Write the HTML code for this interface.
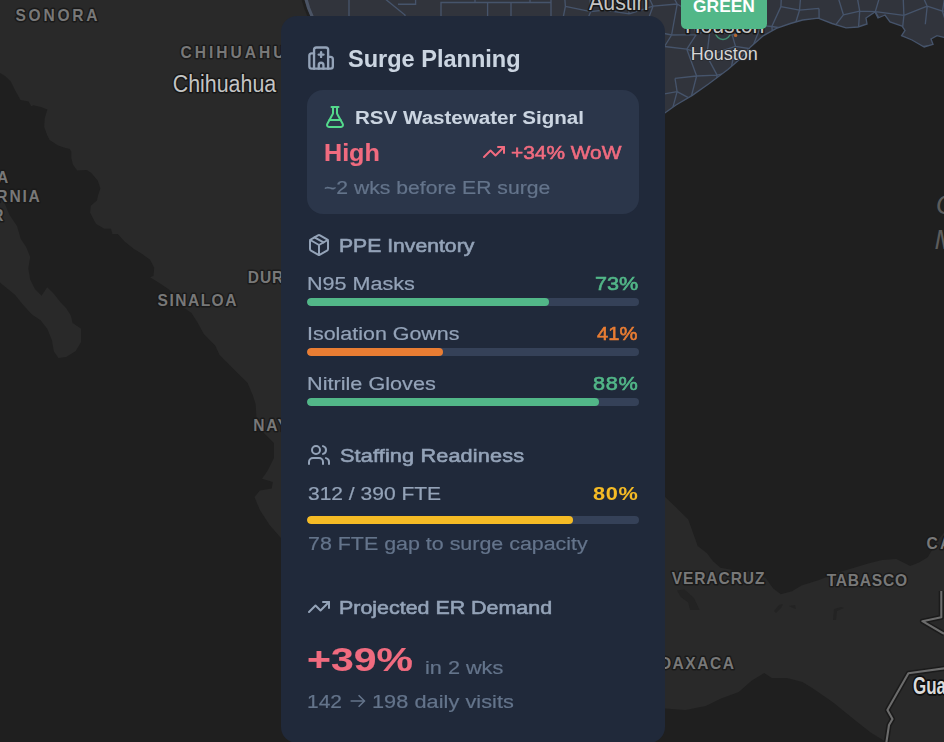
<!DOCTYPE html>
<html lang="en"><head><meta charset="utf-8"><title>Surge Planning</title>
<style>
html,body{margin:0;padding:0;}
body{width:944px;height:742px;overflow:hidden;background:#1f1f1f;font-family:"Liberation Sans",sans-serif;position:relative;}
.map{position:absolute;left:0;top:0;display:block;}
.badge{position:absolute;left:680.7px;top:-12px;width:86.5px;height:41.2px;border-radius:5.3px;background:#52b788;}
.badge b{position:absolute;left:12.4px;top:10.2px;font-size:17.4px;line-height:1;color:#fff;font-weight:700;white-space:pre;}
.panel{position:absolute;left:281px;top:16px;width:384px;height:727px;border-radius:16px;background:#20293a;overflow:hidden;}
.card{position:absolute;left:26.2px;top:74.2px;width:331.8px;height:123.8px;border-radius:16px;background:#2b364a;}
.tx{position:absolute;white-space:pre;line-height:1;transform-origin:0 0;}
.ic{position:absolute;display:block;overflow:visible;}
.bar{position:absolute;left:26.2px;width:331.8px;height:8px;border-radius:4px;background:#354158;overflow:hidden;}
.bar i{display:block;height:100%;border-radius:4px;}
</style></head><body>
<svg class="map" width="944" height="742" viewBox="0 0 944 742" font-family="Liberation Sans, sans-serif">
<defs><clipPath id="txc"><polygon points="303.0,0.0 311.0,20.0 640.0,20.0 640.0,140.0 664.8,113.0 676.0,105.0 692.3,95.4 708.5,84.0 727.9,69.5 740.8,58.2 750.5,46.9 763.5,35.6 776.4,28.3 790.4,23.5 802.6,20.0 818.2,18.2 832.0,23.5 846.0,27.8 858.0,27.0 867.0,24.0 866.0,18.0 875.0,12.0 878.0,18.0 885.0,15.0 890.0,22.0 902.0,26.0 905.0,30.4 901.6,35.6 912.0,40.0 924.2,47.0 933.0,44.3 931.0,39.0 937.0,35.6 944.0,37.4 944.0,0.0"/></clipPath><filter id="soft" color-interpolation-filters="sRGB"><feGaussianBlur stdDeviation="0.5"/></filter></defs>
<rect width="944" height="742" fill="#292929"/>
<g filter="url(#soft)">
<polygon points="0.0,72.9 5.4,76.2 10.8,81.6 15.1,90.2 20.5,99.9 28.6,101.5 31.3,106.3 33.4,105.3 40.9,106.9 47.4,109.6 44.7,118.2 44.2,126.8 46.9,134.4 49.6,140.0 58.0,145.5 64.0,147.5 69.7,148.9 71.3,151.6 71.3,158.0 72.9,164.5 77.2,170.4 86.9,169.9 91.3,173.1 97.7,180.6 100.4,188.2 98.2,195.0 96.9,200.4 90.8,205.8 90.1,212.5 93.5,219.3 96.2,224.0 104.3,228.7 111.0,228.7 112.4,234.1 117.8,234.1 124.5,241.5 133.9,248.9 140.7,253.0 150.1,259.7 154.2,267.8 153.5,275.9 150.1,277.2 160.9,284.0 169.0,289.4 174.4,295.0 182.8,306.9 191.5,313.0 197.7,322.7 203.8,334.0 215.2,345.4 219.6,355.0 230.0,365.6 238.8,374.3 247.6,383.0 252.9,395.4 255.6,404.0 256.6,419.4 263.1,432.3 273.9,443.1 273.9,458.2 267.4,471.1 262.0,478.7 272.8,481.9 271.7,488.4 259.9,490.5 254.5,497.0 259.9,509.9 269.6,525.0 281.0,538.0 300.0,560.0 300.0,742.0 0.0,742.0" fill="#1f1f1f"/>
<polygon points="0.0,188.0 4.7,203.4 9.4,214.7 17.0,226.0 20.8,239.0 26.4,247.5 30.2,257.0 28.3,268.3 30.2,279.6 34.9,289.0 41.5,295.7 47.2,287.2 53.8,293.8 60.4,302.3 66.0,308.0 70.8,315.5 72.6,323.0 81.1,328.7 81.1,341.9 75.5,351.3 66.0,357.0 58.5,358.0 53.8,351.3 51.9,340.0 47.2,328.7 40.6,320.2 32.0,314.5 22.6,304.2 15.0,294.7 5.7,287.2 0.0,282.5" fill="#292929"/>
<polygon points="640.0,140.0 664.8,113.0 676.0,105.0 692.3,95.4 708.5,84.0 727.9,69.5 740.8,58.2 750.5,46.9 763.5,35.6 776.4,28.3 790.4,23.5 802.6,20.0 818.2,18.2 832.0,23.5 846.0,27.8 858.0,27.0 867.0,24.0 866.0,18.0 875.0,12.0 878.0,18.0 885.0,15.0 890.0,22.0 902.0,26.0 905.0,30.4 901.6,35.6 912.0,40.0 924.2,47.0 933.0,44.3 931.0,39.0 937.0,35.6 944.0,37.4 944.0,532.8 938.2,539.8 933.0,548.6 927.7,557.3 919.0,562.6 910.2,566.1 903.2,562.6 896.2,559.0 882.1,560.0 868.1,563.5 854.1,567.8 836.6,573.1 819.0,580.1 801.5,585.4 792.0,591.3 780.8,594.2 773.2,588.5 765.7,578.1 750.6,571.5 735.5,570.6 720.4,567.7 712.8,561.1 707.2,553.6 697.7,546.0 693.0,532.8 688.3,519.6 675.1,506.4 665.1,497.0 640.0,475.0" fill="#1f1f1f"/>
<polygon points="640.0,706.0 665.0,708.6 685.4,710.0 705.8,706.0 721.0,698.5 738.8,692.0 751.5,680.7 764.2,673.0 771.9,678.0 787.0,678.0 802.4,682.0 812.6,688.3 832.9,702.3 853.2,718.8 871.0,732.8 883.7,740.4 886.0,742.0 640.0,742.0" fill="#1f1f1f"/>
<polygon points="677,590.4 684.5,589.4 694,598 699.6,610 690,610 688.3,602.6 680.8,597" fill="#232323"/><path d="M774 611l5-6 4-1-2 4-5 5zM789 606l6-1 1 4-3-1zM833 620l1-11 7-2 3 1-7 3-1 9zM790 604" fill="#232323"/>
</g>
<polygon points="303.0,0.0 311.0,20.0 640.0,20.0 640.0,140.0 664.8,113.0 676.0,105.0 692.3,95.4 708.5,84.0 727.9,69.5 740.8,58.2 750.5,46.9 763.5,35.6 776.4,28.3 790.4,23.5 802.6,20.0 818.2,18.2 832.0,23.5 846.0,27.8 858.0,27.0 867.0,24.0 866.0,18.0 875.0,12.0 878.0,18.0 885.0,15.0 890.0,22.0 902.0,26.0 905.0,30.4 901.6,35.6 912.0,40.0 924.2,47.0 933.0,44.3 931.0,39.0 937.0,35.6 944.0,37.4 944.0,0.0" fill="#31343c"/>
<g clip-path="url(#txc)"><path d="M349 -2V18M384 -2L405 15V18M398 4.2H415.6V-2M441 18V2.5H551M475 2.5V-2M487.6 2.5V18M511 2.5V18M551 -2V18M530 2.5V-2M563.7 -16.5L589.0 -17.6M563.7 -16.5L565.4 6.4M589.0 -17.6L590.8 11.6M608.5 -13.7L623.3 -11.9M608.5 -13.7L604.7 10.0M623.3 -11.9L629.3 13.9M644.0 -12.9L665.4 -17.3M644.0 -12.9L653.0 6.2M665.4 -17.3L677.2 4.0M691.0 -7.8L690.9 12.3M708.1 -15.6L735.7 -6.2M708.1 -15.6L708.5 8.9M735.7 -6.2L756.0 -13.3M735.7 -6.2L728.0 11.2M756.0 -13.3L782.2 -17.9M756.0 -13.3L758.4 9.9M782.2 -17.9L801.7 -14.7M782.2 -17.9L780.9 6.6M801.7 -14.7L813.4 -17.0M801.7 -14.7L799.5 10.2M836.5 -7.9L855.8 -10.9M836.5 -7.9L843.4 14.8M855.8 -10.9L859.7 11.1M882.8 -13.7L902.6 -17.7M882.8 -13.7L875.3 11.6M902.6 -17.7L903.9 15.4M917.3 -15.8L927.2 6.2M946.3 -12.9L962.6 -10.9M946.3 -12.9L942.5 11.2M962.6 -10.9L958.8 8.5M565.4 6.4L590.8 11.6M565.4 6.4L561.7 25.0M590.8 11.6L604.7 10.0M590.8 11.6L581.3 33.5M604.7 10.0L629.3 13.9M629.3 13.9L653.0 6.2M653.0 6.2L677.2 4.0M653.0 6.2L644.5 29.3M677.2 4.0L690.9 12.3M677.2 4.0L671.6 35.0M690.9 12.3L708.5 8.9M690.9 12.3L696.2 34.7M708.5 8.9L728.0 11.2M708.5 8.9L710.1 28.9M728.0 11.2L732.2 35.0M758.4 9.9L761.0 25.5M780.9 6.6L799.5 10.2M780.9 6.6L771.8 26.5M799.5 10.2L819.0 8.4M799.5 10.2L793.5 29.8M819.0 8.4L819.2 26.9M843.4 14.8L859.7 11.1M843.4 14.8L832.6 28.9M859.7 11.1L875.3 11.6M859.7 11.1L858.3 30.9M875.3 11.6L903.9 15.4M875.3 11.6L886.9 32.5M903.9 15.4L927.2 6.2M903.9 15.4L902.2 31.5M927.2 6.2L942.5 11.2M927.2 6.2L925.3 24.2M942.5 11.2L958.8 8.5M942.5 11.2L949.2 33.6M958.8 8.5L969.9 33.9M561.7 25.0L564.6 49.7M581.3 33.5L581.8 52.7M603.2 26.7L627.6 34.8M603.2 26.7L602.3 45.4M627.6 34.8L625.2 46.6M644.5 29.3L671.6 35.0M644.5 29.3L647.9 45.2M671.6 35.0L696.2 34.7M671.6 35.0L664.5 46.5M696.2 34.7L710.1 28.9M696.2 34.7L686.8 49.2M710.1 28.9L732.2 35.0M710.1 28.9L706.8 55.9M732.2 35.0L761.0 25.5M732.2 35.0L735.5 46.4M761.0 25.5L771.8 26.5M761.0 25.5L751.8 49.0M771.8 26.5L793.5 29.8M771.8 26.5L774.2 46.1M793.5 29.8L819.2 26.9M793.5 29.8L801.5 57.4M819.2 26.9L817.6 50.8M832.6 28.9L858.3 30.9M832.6 28.9L833.6 45.8M858.3 30.9L886.9 32.5M858.3 30.9L858.0 47.9M886.9 32.5L885.3 46.6M902.2 31.5L895.8 56.9M949.2 33.6L969.9 33.9M949.2 33.6L944.6 44.9M969.9 33.9L965.4 57.2M564.6 49.7L581.8 52.7M564.6 49.7L570.7 74.6M581.8 52.7L602.3 45.4M581.8 52.7L583.9 70.3M602.3 45.4L625.2 46.6M602.3 45.4L603.7 75.5M625.2 46.6L647.9 45.2M625.2 46.6L629.4 75.6M647.9 45.2L664.5 46.5M647.9 45.2L647.8 68.4M664.5 46.5L686.8 49.2M686.8 49.2L706.8 55.9M686.8 49.2L696.6 76.0M706.8 55.9L735.5 46.4M706.8 55.9L717.1 75.1M735.5 46.4L751.8 49.0M735.5 46.4L730.4 72.2M751.8 49.0L774.2 46.1M751.8 49.0L753.1 65.9M774.2 46.1L801.5 57.4M774.2 46.1L769.9 69.1M801.5 57.4L817.6 50.8M801.5 57.4L793.9 74.5M817.6 50.8L833.6 45.8M817.6 50.8L823.9 71.3M833.6 45.8L858.0 47.9M833.6 45.8L844.7 78.3M858.0 47.9L865.9 70.2M885.3 46.6L895.8 56.9M895.8 56.9L923.4 46.4M895.8 56.9L898.1 68.2M923.4 46.4L944.6 44.9M923.4 46.4L924.6 77.2M944.6 44.9L965.4 57.2M944.6 44.9L948.4 71.7M570.7 74.6L583.9 70.3M570.7 74.6L560.6 95.1M583.9 70.3L603.7 75.5M583.9 70.3L592.3 96.7M603.7 75.5L629.4 75.6M629.4 75.6L647.8 68.4M629.4 75.6L624.8 96.8M647.8 68.4L647.8 96.9M675.0 78.3L696.6 76.0M675.0 78.3L677.1 91.6M696.6 76.0L717.1 75.1M696.6 76.0L690.7 98.8M717.1 75.1L730.4 72.2M717.1 75.1L715.9 88.7M730.4 72.2L753.1 65.9M730.4 72.2L729.2 88.5M753.1 65.9L769.9 69.1M753.1 65.9L760.3 97.0M769.9 69.1L793.9 74.5M793.9 74.5L823.9 71.3M793.9 74.5L803.2 95.0M823.9 71.3L844.7 78.3M823.9 71.3L816.1 93.6M844.7 78.3L865.9 70.2M865.9 70.2L866.1 94.9M877.4 68.4L898.1 68.2M877.4 68.4L881.3 98.6M898.1 68.2L924.6 77.2M898.1 68.2L901.1 97.8M924.6 77.2L948.4 71.7M924.6 77.2L927.2 89.2M948.4 71.7L967.0 75.9M967.0 75.9L961.6 94.1M560.6 95.1L592.3 96.7M560.6 95.1L562.9 112.9M592.3 96.7L611.3 92.7M611.3 92.7L624.8 96.8M611.3 92.7L606.1 113.5M624.8 96.8L647.8 96.9M624.8 96.8L630.1 119.3M647.8 96.9L677.1 91.6M647.8 96.9L649.0 119.4M677.1 91.6L690.7 98.8M677.1 91.6L671.0 114.4M690.7 98.8L715.9 88.7M690.7 98.8L692.3 107.7M715.9 88.7L729.2 88.5M715.9 88.7L712.2 109.9M729.2 88.5L760.3 97.0M729.2 88.5L727.6 117.9M760.3 97.0L771.4 97.2M760.3 97.0L750.7 113.7M771.4 97.2L803.2 95.0M771.4 97.2L778.9 114.7M803.2 95.0L816.1 93.6M803.2 95.0L794.7 114.2M834.2 86.7L866.1 94.9M834.2 86.7L833.9 114.8M866.1 94.9L881.3 98.6M866.1 94.9L856.7 111.1M881.3 98.6L901.1 97.8M881.3 98.6L884.5 114.1M901.1 97.8L927.2 89.2M927.2 89.2L940.8 90.3M927.2 89.2L928.4 113.3M940.8 90.3L961.6 94.1M940.8 90.3L945.5 114.1M961.6 94.1L965.2 116.5M562.9 112.9L582.2 119.3M562.9 112.9L565.4 135.4M582.2 119.3L606.1 113.5M582.2 119.3L586.7 140.7M606.1 113.5L630.1 119.3M606.1 113.5L610.6 139.9M630.1 119.3L649.0 119.4M630.1 119.3L634.7 131.9M649.0 119.4L671.0 114.4M671.0 114.4L675.4 130.3M692.3 107.7L712.2 109.9M692.3 107.7L687.1 134.2M712.2 109.9L727.6 117.9M712.2 109.9L707.4 131.6M727.6 117.9L750.7 113.7M727.6 117.9L728.5 137.2M750.7 113.7L778.9 114.7M750.7 113.7L758.7 140.2M778.9 114.7L794.7 114.2M778.9 114.7L771.5 137.8M794.7 114.2L818.7 117.7M794.7 114.2L799.1 130.4M818.7 117.7L833.9 114.8M818.7 117.7L823.0 141.1M833.9 114.8L856.7 111.1M856.7 111.1L884.5 114.1M856.7 111.1L858.7 134.8M884.5 114.1L902.8 117.4M884.5 114.1L887.4 139.3M902.8 117.4L928.4 113.3M928.4 113.3L945.5 114.1M928.4 113.3L923.2 132.9M945.5 114.1L965.2 116.5M945.5 114.1L940.0 132.6M965.2 116.5L967.9 128.8M565.4 135.4L586.7 140.7M586.7 140.7L610.6 139.9M610.6 139.9L634.7 131.9M634.7 131.9L650.8 140.8M650.8 140.8L675.4 130.3M675.4 130.3L687.1 134.2M687.1 134.2L707.4 131.6M707.4 131.6L728.5 137.2M728.5 137.2L758.7 140.2M758.7 140.2L771.5 137.8M771.5 137.8L799.1 130.4M799.1 130.4L823.0 141.1M823.0 141.1L835.4 140.9M835.4 140.9L858.7 134.8M858.7 134.8L887.4 139.3M887.4 139.3L897.6 134.1M897.6 134.1L923.2 132.9M923.2 132.9L940.0 132.6" fill="none" stroke="#46546b" stroke-width="1.35"/></g>
<polyline points="302.6,-2 305.6,8 310.6,20" fill="none" stroke="#202020" stroke-width="3"/><polyline points="305.6,-2 308.6,8 313.6,20" fill="none" stroke="#4b5465" stroke-width="3.2"/>
<polyline points="664.8,113.0 676.0,105.0 692.3,95.4 708.5,84.0 727.9,69.5 740.8,58.2 750.5,46.9 763.5,35.6 776.4,28.3 790.4,23.5 802.6,20.0 818.2,18.2 832.0,23.5 846.0,27.8 858.0,27.0 867.0,24.0 866.0,18.0 875.0,12.0 878.0,18.0 885.0,15.0 890.0,22.0 902.0,26.0 905.0,30.4 901.6,35.6 912.0,40.0 924.2,47.0 933.0,44.3 931.0,39.0 937.0,35.6 944.0,37.4" fill="none" stroke="#46546b" stroke-width="1.35"/>
<polyline points="941.3,591.0 941.3,617.3 922.4,621.2 944.0,633.8" fill="none" stroke="#1b1b1b" stroke-width="5.2" stroke-linejoin="round"/><polyline points="941.3,591.0 941.3,617.3 922.4,621.2 944.0,633.8" fill="none" stroke="#6c6c6c" stroke-width="2.1" stroke-linejoin="round"/><polyline points="950.0,667.5 908.4,673.3 887.4,710.0 892.5,719.0 889.0,725.0 886.0,745.0" fill="none" stroke="#1b1b1b" stroke-width="5.2" stroke-linejoin="round"/><polyline points="950.0,667.5 908.4,673.3 887.4,710.0 892.5,719.0 889.0,725.0 886.0,745.0" fill="none" stroke="#6c6c6c" stroke-width="2.1" stroke-linejoin="round"/>
<circle cx="723" cy="32" r="7.5" fill="none" stroke="#3f8f6f" stroke-width="1.6"/><circle cx="735.6" cy="35.4" r="1.7" fill="#b8692f"/>
<g paint-order="stroke" stroke-linejoin="round">
<text transform="translate(15.40 20.50) scale(0.95 1)" font-size="16.4" letter-spacing="2.905" font-weight="700" fill="#787878" stroke="#1a1a1a" stroke-width="3.0" >SONORA</text>
<text transform="translate(180.60 57.70) scale(0.95 1)" font-size="16.4" letter-spacing="3.140" font-weight="700" fill="#787878" stroke="#1a1a1a" stroke-width="3.0" >CHIHUAHUA</text>
<text transform="translate(157.60 306.40) scale(0.95 1)" font-size="16.4" letter-spacing="1.539" font-weight="700" fill="#787878" stroke="#1a1a1a" stroke-width="3.0" >SINALOA</text>
<text transform="translate(253.35 431.20) scale(0.95 1)" font-size="16.4" letter-spacing="1.690" font-weight="700" fill="#787878" stroke="#1a1a1a" stroke-width="3.0" >NAYARIT</text>
<text transform="translate(247.85 283.40) scale(0.95 1)" font-size="16.4" letter-spacing="0.900" font-weight="700" fill="#787878" stroke="#1a1a1a" stroke-width="3.0" >DURANGO</text>
<text transform="translate(671.70 584.00) scale(0.95 1)" font-size="16.4" letter-spacing="0.933" font-weight="700" fill="#787878" stroke="#1a1a1a" stroke-width="3.0" >VERACRUZ</text>
<text transform="translate(826.70 586.40) scale(0.95 1)" font-size="16.4" letter-spacing="0.795" font-weight="700" fill="#787878" stroke="#1a1a1a" stroke-width="3.0" >TABASCO</text>
<text transform="translate(926.40 548.80) scale(0.95 1)" font-size="16.4" letter-spacing="2.400" font-weight="700" fill="#787878" stroke="#1a1a1a" stroke-width="3.0" >CAMPECHE</text>
<text transform="translate(-39.66 183.20) scale(0.95 1)" font-size="16.4" letter-spacing="1.900" font-weight="700" fill="#787878" stroke="#1a1a1a" stroke-width="3.0" >BAJA</text>
<text transform="translate(-72.41 202.20) scale(0.95 1)" font-size="16.4" letter-spacing="1.900" font-weight="700" fill="#787878" stroke="#1a1a1a" stroke-width="3.0" >CALIFORNIA</text>
<text transform="translate(-32.94 220.70) scale(0.95 1)" font-size="16.4" letter-spacing="1.900" font-weight="700" fill="#787878" stroke="#1a1a1a" stroke-width="3.0" >SUR</text>
<text transform="translate(658.97 668.80) scale(0.95 1)" font-size="16.4" letter-spacing="1.600" font-weight="700" fill="#787878" stroke="#1a1a1a" stroke-width="3.0" >OAXACA</text>
<text transform="translate(172.70 91.60) scale(0.915 1)" font-size="23.4" letter-spacing="0.000" font-weight="400" fill="#c4c4c4" stroke="#161616" stroke-width="3" >Chihuahua</text>
<text transform="translate(589.00 10.20) scale(0.915 1)" font-size="23.4" letter-spacing="0.000" font-weight="400" fill="#c4c4c4" stroke="#161616" stroke-width="3" >Austin</text>
<text transform="translate(685.00 33.00) scale(0.915 1)" font-size="23.3" letter-spacing="0.000" font-weight="400" fill="#c4c4c4" stroke="#161616" stroke-width="3" >Houston</text>
<text transform="translate(690.70 59.70) scale(1.0 1)" font-size="18" letter-spacing="0.000" font-weight="400" fill="#d6d6d6" stroke="#26282d" stroke-width="1.6" >Houston</text>
<text transform="translate(912.90 694.30) scale(0.74 1)" font-size="23" letter-spacing="0.000" font-weight="700" fill="#dadada" stroke="#0e0e0e" stroke-width="3.6" >Guatemala</text>
<text x="936" y="214" font-size="27" font-style="italic" fill="#5c5c5c" font-weight="400">Gulf of</text>
<text x="934.6" y="248.5" font-size="27" font-style="italic" fill="#5c5c5c" font-weight="400">Mexico</text>
</g>
</svg>
<div class="badge"><b>GREEN</b></div>
<div class="panel">
<div class="card"></div>
<svg class="ic" style="left:25.90px;top:27.90px" width="28.2" height="28.2" viewBox="0 0 24 24" fill="none" stroke="#94a3b8" stroke-width="2" stroke-linecap="round" stroke-linejoin="round"><path d="M12 7v4"/><path d="M14 21v-3a2 2 0 0 0-4 0v3"/><path d="M14 9h-4"/><path d="M18 11h2a2 2 0 0 1 2 2v6a2 2 0 0 1-2 2H4a2 2 0 0 1-2-2v-9a2 2 0 0 1 2-2h2"/><path d="M18 21V5a2 2 0 0 0-2-2H8a2 2 0 0 0-2 2v16"/></svg>
<svg class="ic" style="left:42.00px;top:89.00px" width="24" height="24" viewBox="0 0 24 24" fill="none" stroke="#54d98c" stroke-width="2" stroke-linecap="round" stroke-linejoin="round"><path d="M14 2v6a2 2 0 0 0 .245.96l5.51 10.08A2 2 0 0 1 18 22H6a2 2 0 0 1-1.755-2.96l5.51-10.08A2 2 0 0 0 10 8V2"/><path d="M6.453 15h11.094"/><path d="M8.5 2h7"/></svg>
<svg class="ic" style="left:201.10px;top:124.20px" width="24" height="24" viewBox="0 0 24 24" fill="none" stroke="#f06b7f" stroke-width="2" stroke-linecap="round" stroke-linejoin="round"><polyline points="22 7 13.5 15.5 8.5 10.5 2 17"/><polyline points="16 7 22 7 22 13"/></svg>
<svg class="ic" style="left:26.00px;top:217.00px" width="24" height="24" viewBox="0 0 24 24" fill="none" stroke="#94a3b8" stroke-width="2" stroke-linecap="round" stroke-linejoin="round"><path d="M11 21.73a2 2 0 0 0 2 0l7-4A2 2 0 0 0 21 16V8a2 2 0 0 0-1-1.73l-7-4a2 2 0 0 0-2 0l-7 4A2 2 0 0 0 3 8v8a2 2 0 0 0 1 1.73z"/><path d="M12 22V12"/><polyline points="3.29 7 12 12 20.71 7"/><path d="m7.5 4.27 9 5.15"/></svg>
<svg class="ic" style="left:26.00px;top:427.00px" width="24" height="24" viewBox="0 0 24 24" fill="none" stroke="#94a3b8" stroke-width="2" stroke-linecap="round" stroke-linejoin="round"><path d="M16 21v-2a4 4 0 0 0-4-4H6a4 4 0 0 0-4 4v2"/><circle cx="9" cy="7" r="4"/><path d="M22 21v-2a4 4 0 0 0-3-3.87"/><path d="M16 3.13a4 4 0 0 1 0 7.75"/></svg>
<svg class="ic" style="left:26.30px;top:579.00px" width="24" height="24" viewBox="0 0 24 24" fill="none" stroke="#94a3b8" stroke-width="2" stroke-linecap="round" stroke-linejoin="round"><polyline points="22 7 13.5 15.5 8.5 10.5 2 17"/><polyline points="16 7 22 7 22 13"/></svg>
<svg class="ic" style="left:68.60px;top:677.50px" width="16" height="14" viewBox="0 0 16 14" fill="none" stroke="#64748b" stroke-width="1.55" stroke-linecap="butt" stroke-linejoin="miter"><path d="M0.6 7H14.2"/><path d="M8.6 1.3L14.4 7L8.6 12.7"/></svg>
<span id="t1" class="tx" style="left:67.30px;top:30.86px;font-size:24.5px;font-weight:700;color:#cbd5e1;letter-spacing:0.000px;transform:scaleX(0.9607); -webkit-text-stroke:0.05px currentColor;">Surge Planning</span>
<span id="t2" class="tx" style="left:74.03px;top:92.05px;font-size:19.2px;font-weight:700;color:#cbd5e1;letter-spacing:0.000px;transform:scaleX(1.0716); -webkit-text-stroke:0.05px currentColor;">RSV Wastewater Signal</span>
<span id="t3" class="tx" style="left:42.77px;top:124.86px;font-size:24.5px;font-weight:700;color:#f06b7f;letter-spacing:0.000px;transform:scaleX(1.0254); -webkit-text-stroke:0.15px currentColor;">High</span>
<span id="t4" class="tx" style="left:229.60px;top:127.10px;font-size:19.2px;font-weight:400;color:#f06b7f;letter-spacing:0.000px;transform:scaleX(1.0882); -webkit-text-stroke:0.6px currentColor;">+34% WoW</span>
<span id="t5" class="tx" style="left:43.20px;top:162.35px;font-size:19.2px;font-weight:400;color:#64748b;letter-spacing:-0.000px;transform:scaleX(1.1020); -webkit-text-stroke:0.22px currentColor;">~2 wks before ER surge</span>
<span id="t6" class="tx" style="left:58.10px;top:220.00px;font-size:19.2px;font-weight:400;color:#94a3b8;letter-spacing:-0.000px;transform:scaleX(1.1028); -webkit-text-stroke:0.6px currentColor;">PPE Inventory</span>
<span id="t7" class="tx" style="left:25.68px;top:258.15px;font-size:19.2px;font-weight:400;color:#94a3b8;letter-spacing:-0.000px;transform:scaleX(1.1237); -webkit-text-stroke:0.22px currentColor;">N95 Masks</span>
<span id="t8" class="tx" style="left:313.60px;top:258.15px;font-size:19.2px;font-weight:400;color:#52b788;letter-spacing:0.000px;transform:scaleX(1.1267); -webkit-text-stroke:0.6px currentColor;">73%</span>
<span id="t9" class="tx" style="left:25.68px;top:307.95px;font-size:19.2px;font-weight:400;color:#94a3b8;letter-spacing:0.000px;transform:scaleX(1.1170); -webkit-text-stroke:0.22px currentColor;">Isolation Gowns</span>
<span id="t10" class="tx" style="left:316.40px;top:307.95px;font-size:19.2px;font-weight:400;color:#e97d33;letter-spacing:0.000px;transform:scaleX(1.0537); -webkit-text-stroke:0.6px currentColor;">41%</span>
<span id="t11" class="tx" style="left:25.67px;top:358.45px;font-size:19.2px;font-weight:400;color:#94a3b8;letter-spacing:-0.000px;transform:scaleX(1.1290); -webkit-text-stroke:0.22px currentColor;">Nitrile Gloves</span>
<span id="t12" class="tx" style="left:312.30px;top:358.45px;font-size:19.2px;font-weight:400;color:#52b788;letter-spacing:0.652px;transform:scaleX(1.1300); -webkit-text-stroke:0.6px currentColor;">88%</span>
<span id="t13" class="tx" style="left:58.90px;top:430.15px;font-size:19.2px;font-weight:400;color:#94a3b8;letter-spacing:0.123px;transform:scaleX(1.1300); -webkit-text-stroke:0.6px currentColor;">Staffing Readiness</span>
<span id="t14" class="tx" style="left:26.80px;top:468.15px;font-size:19.2px;font-weight:400;color:#94a3b8;letter-spacing:-0.000px;transform:scaleX(1.0944); -webkit-text-stroke:0.22px currentColor;">312 / 390 FTE</span>
<span id="t15" class="tx" style="left:312.30px;top:468.25px;font-size:19.2px;font-weight:700;color:#f5bb25;letter-spacing:0.652px;transform:scaleX(1.1300); -webkit-text-stroke:0.05px currentColor;">80%</span>
<span id="t16" class="tx" style="left:26.80px;top:517.75px;font-size:19.2px;font-weight:400;color:#64748b;letter-spacing:0.000px;transform:scaleX(1.1161); -webkit-text-stroke:0.22px currentColor;">78 FTE gap to surge capacity</span>
<span id="t17" class="tx" style="left:58.08px;top:581.95px;font-size:19.2px;font-weight:400;color:#94a3b8;letter-spacing:-0.000px;transform:scaleX(1.1161); -webkit-text-stroke:0.6px currentColor;">Projected ER Demand</span>
<span id="t18" class="tx" style="left:26.00px;top:626.42px;font-size:34px;font-weight:700;color:#f06b7f;letter-spacing:0.000px;transform:scaleX(1.2045); -webkit-text-stroke:0.15px currentColor;">+39%</span>
<span id="t19" class="tx" style="left:143.67px;top:642.10px;font-size:19.2px;font-weight:400;color:#64748b;letter-spacing:0.000px;transform:scaleX(1.1297); -webkit-text-stroke:0.22px currentColor;">in 2 wks</span>
<span id="t20" class="tx" style="left:25.51px;top:676.15px;font-size:19.2px;font-weight:400;color:#64748b;letter-spacing:0.000px;transform:scaleX(1.0909); -webkit-text-stroke:0.22px currentColor;">142</span>
<span id="t21" class="tx" style="left:90.97px;top:676.15px;font-size:19.2px;font-weight:400;color:#64748b;letter-spacing:0.053px;transform:scaleX(1.1300); -webkit-text-stroke:0.22px currentColor;">198 daily visits</span>
<div class="bar" style="top:282px"><i style="width:73%;background:#52b788"></i></div>
<div class="bar" style="top:332px"><i style="width:41%;background:#e97d33"></i></div>
<div class="bar" style="top:382px"><i style="width:88%;background:#52b788"></i></div>
<div class="bar" style="top:500px"><i style="width:80%;background:#f5bb25"></i></div>
</div>
</body></html>
